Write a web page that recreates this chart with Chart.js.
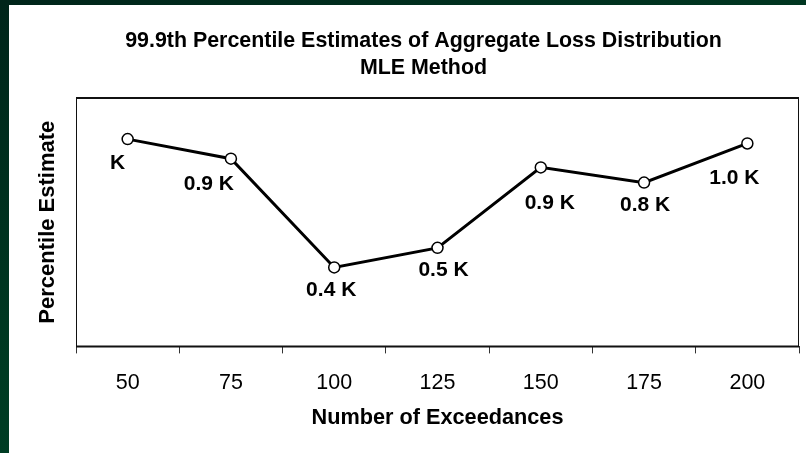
<!DOCTYPE html>
<html>
<head>
<meta charset="utf-8">
<script src="https://cdn.jsdelivr.net/npm/chart.js@4.4.1/dist/chart.umd.min.js"></script>
<style>
   html, body {
      margin: 0;
      padding: 0;
      width: 806px;
      height: 453px;
      overflow: hidden;
      background: linear-gradient(160deg, #00251a 0%, #003a22 50%, #00482a 100%);
   }
   #panel {
      position: absolute;
      left: 9px;
      top: 5px;
      width: 797px;
      height: 448px;
      background: #ffffff;
   }
   #chart {
      position: absolute;
      left: 0;
      top: 0;
   }
</style>
</head>
<body>
<div id="panel"></div>
<canvas id="chart" width="806" height="453"></canvas>
<script>
// values (in K units)
const exceedances = ["50", "75", "100", "125", "150", "175", "200"];
const estimates = [0.99, 0.90, 0.40, 0.49, 0.86, 0.79, 0.97];
const pointLabels = ["K", "0.9 K", "0.4 K", "0.5 K", "0.9 K", "0.8 K", "1.0 K"];

const FONT = "Arial, 'Liberation Sans', sans-serif";
Chart.defaults.font.family = FONT;
Chart.defaults.color = "#000";

// box around the plot area
const frame = {
   id: "frame",
   afterDraw(chart) {
      const { ctx, chartArea: a } = chart;
      ctx.save();
      ctx.strokeStyle = "#111";
      ctx.lineWidth = 2;
      ctx.beginPath();
      ctx.moveTo(a.left, a.top);
      ctx.lineTo(a.right, a.top);
      ctx.moveTo(a.left, a.bottom);
      ctx.lineTo(a.right, a.bottom);
      ctx.stroke();
      ctx.lineWidth = 1;
      ctx.beginPath();
      ctx.moveTo(a.left + 0.5, a.top);
      ctx.lineTo(a.left + 0.5, a.bottom);
      ctx.moveTo(a.right - 0.5, a.top);
      ctx.lineTo(a.right - 0.5, a.bottom);
      ctx.stroke();
      ctx.restore();
   },
};

// text labels next to each point
const labelOffsets = [[-10, 24], [-22, 26], [-3, 23], [6, 22], [9, 36], [1, 23], [-13, 35]];
const pointText = {
   id: "pointText",
   afterDatasetsDraw(chart) {
      const { ctx } = chart;
      const meta = chart.getDatasetMeta(0);
      ctx.save();
      ctx.font = "bold 21px " + FONT;
      ctx.fillStyle = "#000";
      ctx.textAlign = "center";
      ctx.textBaseline = "middle";
      meta.data.forEach((pt, i) => {
         ctx.fillText(pointLabels[i], pt.x + labelOffsets[i][0], pt.y + labelOffsets[i][1]);
      });
      ctx.restore();
   },
};

new Chart(document.getElementById("chart").getContext("2d"), {
   type: "line",
   data: {
      labels: exceedances,
      datasets: [
         {
            data: estimates,
            borderColor: "#000",
            borderWidth: 3,
            tension: 0,
            pointRadius: 5.5,
            pointBorderWidth: 1.5,
            pointBackgroundColor: "#fff",
            pointBorderColor: "#000",
         },
      ],
   },
   options: {
      responsive: false,
      animation: false,
      layout: {
         padding: { left: 45, right: 4, top: 0, bottom: 0 },
      },
      scales: {
         x: {
            offset: true,
            grid: {
               offset: true,
               drawOnChartArea: false,
               drawTicks: true,
               tickLength: 7,
               tickColor: "#333",
               tickWidth: 1,
            },
            border: { display: false },
            ticks: {
               padding: 17.1,
               font: { size: 21.5 },
               maxRotation: 0,
            },
            title: {
               display: true,
               text: "Number of Exceedances",
               font: { size: 21.7, weight: "bold", lineHeight: "8px" },
               padding: { top: 0.3, bottom: 31.3 },
            },
         },
         y: {
            min: 0.037,
            max: 1.179,
            grid: { display: false },
            border: { display: false },
            ticks: { display: false },
            title: {
               display: true,
               text: "Percentile Estimate",
               font: { size: 22, weight: "bold", lineHeight: "6px" },
               padding: { top: 0, bottom: 17 },
            },
         },
      },
      plugins: {
         legend: { display: false },
         tooltip: { enabled: false },
         title: {
            display: true,
            text: ["99.9th Percentile Estimates of Aggregate Loss Distribution", "MLE Method"],
            font: { size: 21.4, weight: "bold", lineHeight: "27px" },
            color: "#000",
            padding: { top: 28, bottom: 16 },
         },
      },
   },
   plugins: [frame, pointText],
});
</script>
</body>
</html>
